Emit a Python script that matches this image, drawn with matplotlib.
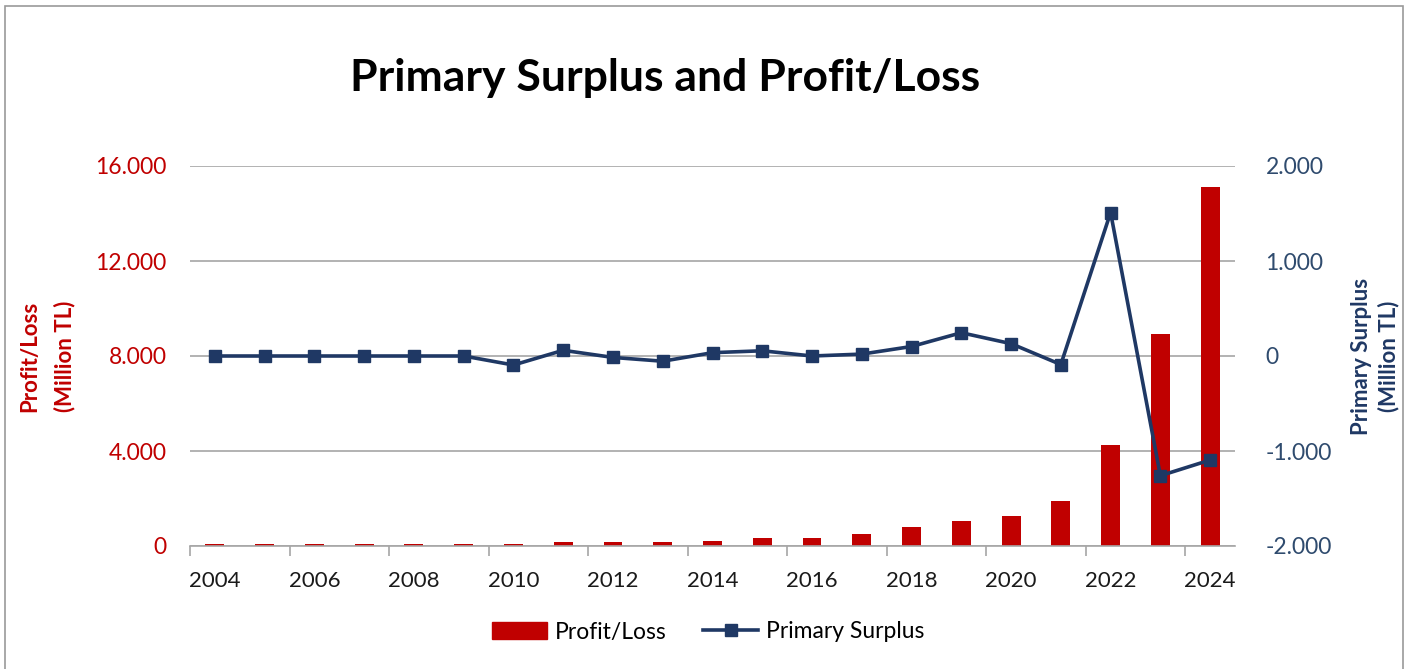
import numpy as np
import matplotlib
matplotlib.use("Agg")
import matplotlib.pyplot as plt
from matplotlib.patches import Rectangle, Patch
from matplotlib.lines import Line2D
from matplotlib.ticker import FuncFormatter, FixedLocator

# ---------------- data ----------------
years = list(range(2004, 2025))
profit_loss = [65, 65, 65, 65, 65, 65, 65, 180, 180, 175, 220, 330, 330, 500,
               820, 1045, 1255, 1895, 4260, 8920, 15110]
primary_surplus = [0, 0, 0, 0, 0, 0, -95, 60, -15, -55, 35, 55, 0, 20,
                   100, 245, 130, -90, 1510, -1260, -1095]
left_ticks = [0, 4000, 8000, 12000, 16000]
right_ticks = [-2000, -1000, 0, 1000, 2000]

RED = "#C00000"
NAVY = "#1F3864"
NAVY_TXT = "#2F4B6E"
GRID = "#A6A6A6"
FONT = ["Lato", "DejaVu Sans"]

plt.rcParams["font.family"] = FONT


def dot_thousands(v, _pos=None):
    s = f"{abs(v):,.0f}".replace(",", ".")
    return ("-" if v < 0 else "") + s


W, H = 1408, 669
fig = plt.figure(figsize=(W / 100, H / 100), dpi=100)

# plot area in pixels: x 190..1235, y 166..546
ax = fig.add_axes([190 / W, 1 - 546 / H, (1235 - 190) / W, (546 - 166) / H])
x = np.arange(len(years))

ax.bar(x, profit_loss, width=0.38, color=RED, linewidth=0, zorder=2)
ax.set_xlim(-0.5, len(years) - 0.5)
ax.set_ylim(left_ticks[0], left_ticks[-1])
ax.set_yticks(left_ticks)
ax.yaxis.set_major_formatter(FuncFormatter(dot_thousands))
ax.tick_params(axis="y", colors=RED, labelsize=16.5, length=0, pad=17)
ax.grid(axis="y", color=GRID, linewidth=1.2, zorder=0)
ax.set_axisbelow(True)

ax.set_xticks(x[::2])
ax.set_xticklabels([str(y) for y in years[::2]])
ax.xaxis.set_minor_locator(FixedLocator(np.arange(-0.5, len(years), 2)))
ax.tick_params(axis="x", which="major", length=0, labelsize=16,
               labelcolor="#1A1A1A", pad=18)
ax.tick_params(axis="x", which="minor", length=7, width=1.2, color=GRID)

for side in ["top", "left", "right"]:
    ax.spines[side].set_visible(False)
ax.spines["bottom"].set_color(GRID)
ax.spines["bottom"].set_linewidth(1.2)

ax.set_ylabel("Profit/Loss\n(Million TL)", color=RED, fontsize=16,
              fontweight="bold", linespacing=1.75, labelpad=14)

# secondary axis for the line
ax2 = ax.twinx()
ax2.plot(x, primary_surplus, color=NAVY, linewidth=2.6, marker="s",
         markersize=8.5, zorder=3)
ax2.set_ylim(right_ticks[0], right_ticks[-1])
ax2.set_yticks(right_ticks)
ax2.yaxis.set_major_formatter(FuncFormatter(dot_thousands))
ax2.tick_params(axis="y", colors=NAVY_TXT, labelsize=16.5, length=0, pad=22)
for side in ["top", "left", "right", "bottom"]:
    ax2.spines[side].set_visible(False)
ax2.set_ylabel("Primary Surplus\n(Million TL)", color=NAVY, fontsize=16,
               fontweight="bold", linespacing=1.3, labelpad=14)

fig.text(665 / W, 1 - 78 / H, "Primary Surplus and Profit/Loss",
         ha="center", va="center", fontsize=32, fontweight="bold",
         color="black")

handles = [Patch(facecolor=RED, edgecolor=RED),
           Line2D([0], [0], color=NAVY, linewidth=2.6, marker="s",
                  markersize=8.5)]
fig.legend(handles, ["Profit/Loss", "Primary Surplus"], loc="center",
           bbox_to_anchor=(708 / W, 1 - 632 / H), ncol=2, frameon=False,
           fontsize=16.5, handlelength=2.4, columnspacing=1.6,
           handletextpad=0.35)

# outer chart border
fig.patches.append(Rectangle((5 / W, -0.01), 1398 / W, 1 - 6 / H + 0.01,
                             transform=fig.transFigure, fill=False,
                             edgecolor="#9A9A9A", linewidth=1.2))

fig.savefig("out.png", dpi=100)
